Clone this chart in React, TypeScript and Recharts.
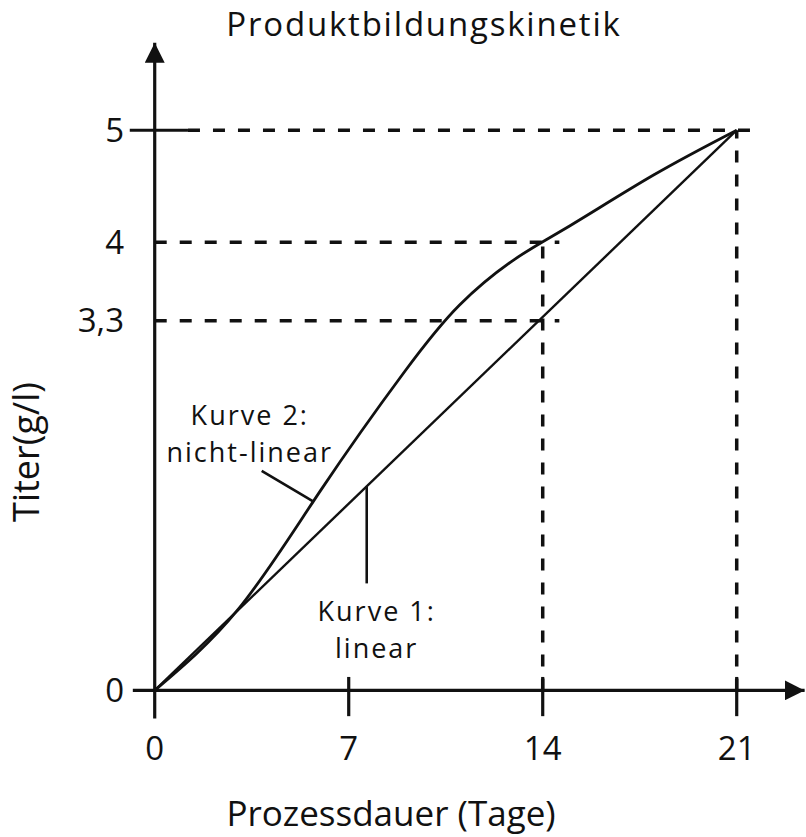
import { LineChart, Line, XAxis, YAxis, ReferenceLine, ReferenceDot } from 'recharts';

// x: Prozessdauer (Tage), y: Titer (g/l)
const dayTicks = [0, 7, 14, 21];
const titerTicks = [0, 3.3, 4, 5];

const linearDays = [0, 21];
const linearTiter = [0, 5];

const nonlinearDays = [0, 3, 6, 9, 11, 13, 15, 18, 21];
const nonlinearTiter = [0, 0.72, 1.79, 2.84, 3.44, 3.85, 4.15, 4.6, 5.0];

// dashed guides
const guideLevels = [5, 4, 3.3];
const guideStarts = [1.2, 0, 0];
const guideEnds = [21.65, 14.6, 14.6];
const guideDays = [14, 21];
const guideTops = [4.05, 5];

const linearData = linearDays.map((x, i) => ({ x, y: linearTiter[i] }));
const nonlinearData = nonlinearDays.map((x, i) => ({ x, y: nonlinearTiter[i] }));

const INK = '#111';
const FONT = '"Open Sans", "Noto Sans", sans-serif';

function Note({ cx, cy, lines }: { cx?: number; cy?: number; lines: string[] }) {
  if (cx == null || cy == null) return null;
  return (
    <g>
      {lines.map((t, i) => (
        <text key={t} x={cx} y={cy + i * 37} textAnchor="middle" fontSize={27} letterSpacing={2} fill={INK}>
          {t}
        </text>
      ))}
    </g>
  );
}

export default function App() {
  return (
    <div style={{ position: 'absolute', left: 0, top: 0, width: 806, height: 837, background: '#fff', fontFamily: FONT }}>
      <LineChart width={806} height={837} margin={{ top: 35, right: 0, bottom: 0, left: 0 }}>
        <defs>
          <marker
            id="arrowHead"
            viewBox="0 0 20 20"
            refX={20}
            refY={10}
            markerWidth={20}
            markerHeight={20}
            markerUnits="userSpaceOnUse"
            orient="auto"
          >
            <path d="M0,0 L20,10 L0,20 Z" fill={INK} />
          </marker>
        </defs>

        <XAxis
          dataKey="x"
          type="number"
          domain={[-1, 23.5]}
          allowDataOverflow
          ticks={dayTicks}
          axisLine={false}
          tickLine={false}
          tickSize={0}
          tickMargin={13}
          height={113}
          tick={{ fill: INK, fontSize: 33 }}
        />
        <YAxis
          type="number"
          domain={[-0.3, 5.85]}
          allowDataOverflow
          ticks={titerTicks}
          interval={0}
          axisLine={false}
          tickLine={false}
          tickSize={0}
          tickMargin={3}
          width={127}
          tick={{ fill: INK, fontSize: 33 }}
          tickFormatter={(v: number) => String(v).replace('.', ',')}
        />

        {guideLevels.map((lv, i) => (
          <ReferenceLine
            key={'h' + lv}
            segment={[{ x: guideStarts[i], y: lv }, { x: guideEnds[i], y: lv }]}
            stroke={INK}
            strokeWidth={3.5}
            strokeDasharray="12 13"
            ifOverflow="visible"
          />
        ))}
        {guideDays.map((d, i) => (
          <ReferenceLine
            key={'v' + d}
            segment={[{ x: d, y: 0 }, { x: d, y: guideTops[i] }]}
            stroke={INK}
            strokeWidth={3.5}
            strokeDasharray="12 12"
            ifOverflow="visible"
          />
        ))}

        {/* axes with arrows */}
        <ReferenceLine
          segment={[{ x: -0.79, y: 0 }, { x: 23.45, y: 0 }]}
          stroke={INK}
          strokeWidth={3.2}
          markerEnd="url(#arrowHead)"
          ifOverflow="visible"
        />
        <ReferenceLine
          segment={[{ x: 0, y: -0.25 }, { x: 0, y: 5.78 }]}
          stroke={INK}
          strokeWidth={3.2}
          markerEnd="url(#arrowHead)"
          ifOverflow="visible"
        />
        <ReferenceLine
          segment={[{ x: -0.9, y: 5 }, { x: 1.2, y: 5 }]}
          stroke={INK}
          strokeWidth={3.2}
          ifOverflow="visible"
        />
        {dayTicks.slice(1).map((d) => (
          <ReferenceLine
            key={'t' + d}
            segment={[{ x: d, y: -0.23 }, { x: d, y: 0.12 }]}
            stroke={INK}
            strokeWidth={3.2}
            ifOverflow="visible"
          />
        ))}

        <Line
          data={linearData}
          dataKey="y"
          type="linear"
          stroke={INK}
          strokeWidth={2.4}
          dot={false}
          activeDot={false}
          isAnimationActive={false}
        />
        <Line
          data={nonlinearData}
          dataKey="y"
          type="natural"
          stroke={INK}
          strokeWidth={2.8}
          dot={false}
          activeDot={false}
          isAnimationActive={false}
        />

        {/* annotation pointers */}
        <ReferenceLine
          segment={[{ x: 3.86, y: 1.96 }, { x: 5.7, y: 1.69 }]}
          stroke={INK}
          strokeWidth={2.6}
          ifOverflow="visible"
        />
        <ReferenceLine
          segment={[{ x: 7.65, y: 0.955 }, { x: 7.65, y: 1.82 }]}
          stroke={INK}
          strokeWidth={2.6}
          ifOverflow="visible"
        />
        <ReferenceDot x={3.43} y={2.37} r={0} ifOverflow="visible" shape={(p: any) => <Note cx={p.cx} cy={p.cy} lines={['Kurve 2:', 'nicht-linear']} />} />
        <ReferenceDot x={8.01} y={0.62} r={0} ifOverflow="visible" shape={(p: any) => <Note cx={p.cx} cy={p.cy} lines={['Kurve 1:', 'linear']} />} />

        <text x={424} y={36} textAnchor="middle" fontSize={33} letterSpacing={1.8} fill={INK}>
          Produktbildungskinetik
        </text>
        <text x={391} y={826} textAnchor="middle" fontSize={35} fill={INK}>
          Prozessdauer (Tage)
        </text>
        <text transform="translate(39, 452) rotate(-90)" textAnchor="middle" fontSize={36} fill={INK}>
          Titer(g/l)
        </text>
      </LineChart>
    </div>
  );
}
